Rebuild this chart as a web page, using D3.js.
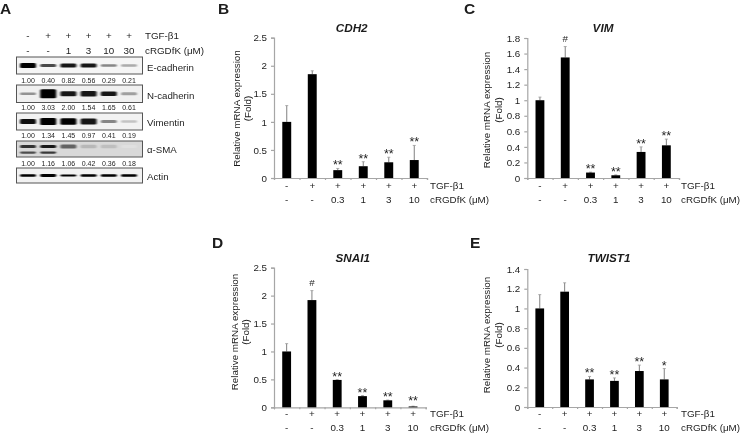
<!DOCTYPE html>
<html><head><meta charset="utf-8"><script src="https://cdn.jsdelivr.net/npm/d3@7"></script>
<style>html,body{margin:0;background:#fff}svg{display:block}text{font-family:"Liberation Sans",Arial,sans-serif;fill:#1a1a1a;opacity:.99}</style></head>
<body><svg id="c" width="740" height="434"></svg>
<script>
const tgfRow = ["-","+","+","+","+","+"];
const doseRow = ["-","-","0.3","1","3","10"];
const blotTgf = ["-","+","+","+","+","+"];
const blotDose = ["-","-","1","3","10","30"];
const blotNames = ["E-cadherin","N-cadherin","Vimentin","α-SMA","Actin"];
const eCad = [1.00,0.40,0.82,0.56,0.29,0.21];
const nCad = [1.00,3.03,2.00,1.54,1.65,0.61];
const vim = [1.00,1.34,1.45,0.97,0.41,0.19];
const sma = [1.00,1.16,1.06,0.42,0.36,0.18];
const eCadShade = [1,.7,.9,.9,.45,.3];
const nCadShade = [.4,1,.9,.9,.9,.35];
const vimShade = [.95,1,1,.9,.45,.2];
const smaShade = [.8,.9,.6,.25,.22,.08];
const actinShade = [1,1,1,1,1,1];
const cdh2 = [1,1.85,0.14,0.21,0.28,0.32], cdh2Err = [0.29,0.06,0.03,0.08,0.09,0.26], cdh2Sig = ["","","**","**","**","**"];
const vimRna = [1,1.55,0.07,0.035,0.335,0.42], vimErr = [0.04,0.14,0.005,0.005,0.065,0.08], vimSig = ["","#","**","**","**","**"];
const snai1 = [1,1.92,0.49,0.2,0.125,0.015], snai1Err = [0.14,0.17,0.005,0.01,0.005,0.005], snai1Sig = ["","#","**","**","**","**"];
const twist1 = [1,1.17,0.28,0.265,0.365,0.28], twist1Err = [0.14,0.09,0.03,0.03,0.06,0.11], twist1Sig = ["","","**","**","**","*"];
const ticks25 = [0,0.5,1,1.5,2,2.5], ticks18 = [0,0.2,0.4,0.6,0.8,1,1.2,1.4,1.6,1.8], ticks14 = [0,0.2,0.4,0.6,0.8,1,1.2,1.4];

const svg = d3.select("#c");
const defs = svg.append("defs");
defs.append("filter").attr("id","blur").attr("x","-30%").attr("y","-150%").attr("width","160%").attr("height","400%")
  .append("feGaussianBlur").attr("stdDeviation","0.9 0.5");

function label(x,y,t,size,opt={}){
  return svg.append("text").attr("x",x).attr("y",y).attr("font-size",size)
    .attr("text-anchor",opt.anchor||"start").attr("font-weight",opt.weight||null)
    .attr("font-style",opt.style||null).text(t);
}
[["A",0,14],["B",218,14],["C",464,14],["D",212,248],["E",470,248]].forEach(d=>label(d[1],d[2],d[0],15.5,{weight:"bold"}));

function panel(o){
  const y = d3.scaleLinear().domain(o.domain).range([o.bottom,o.top]);
  const x = d3.scaleBand().domain(d3.range(6)).range([o.left,o.right]).paddingInner(0.65).paddingOuter(0.325);
  const g = svg.append("g");
  const yAxis = d3.axisLeft(y).tickValues(o.ticks).tickSize(3).tickFormat(d=>String(d));
  const ya = g.append("g").attr("transform",`translate(${o.left},0)`).call(yAxis);
  ya.selectAll("text").attr("font-size",9.8).attr("dx","-1");
  const xAxis = d3.axisBottom(d3.scaleLinear().domain([0,6]).range([o.left,o.right])).tickValues(d3.range(7)).tickSize(2).tickFormat("");
  const xa = g.append("g").attr("transform",`translate(0,${o.bottom})`).call(xAxis);
  [ya,xa].forEach(a=>{a.selectAll(".domain,line").attr("stroke","#a6a6a6").attr("stroke-width",1.2);});
  const idx = d3.range(6), c = i=>x(i)+x.bandwidth()/2;
  g.selectAll(".err").data(idx).join("line").attr("class","err")
    .attr("x1",c).attr("x2",c)
    .attr("y1",i=>y(o.values[i])).attr("y2",i=>y(o.values[i]+o.errors[i]))
    .attr("stroke","#808080").attr("stroke-width",1);
  g.selectAll(".cap").data(idx).join("line").attr("class","cap")
    .attr("x1",i=>c(i)-1.5).attr("x2",i=>c(i)+1.5)
    .attr("y1",i=>y(o.values[i]+o.errors[i])).attr("y2",i=>y(o.values[i]+o.errors[i]))
    .attr("stroke","#999").attr("stroke-width",0.8);
  g.selectAll(".bar").data(idx).join("rect").attr("class","bar")
    .attr("x",i=>x(i)).attr("width",x.bandwidth())
    .attr("y",i=>y(o.values[i])).attr("height",i=>o.bottom-y(o.values[i])).attr("fill","#000");
  g.selectAll(".sig").data(idx).join("text").attr("class","sig")
    .attr("x",c)
    .attr("y",i=>{const t=y(o.values[i]+o.errors[i]);return o.sig[i]==="#"?t-4.5:Math.min(t+1,o.bottom-2.5);})
    .attr("text-anchor","middle").attr("font-size",i=>o.sig[i]==="#"?9.8:12.5).text(i=>o.sig[i]);
  g.selectAll(".r1").data(idx).join("text").attr("class","r1")
    .attr("x",c).attr("y",o.bottom+o.row1).attr("text-anchor","middle").attr("font-size",9.8).text(i=>tgfRow[i]);
  g.selectAll(".r2").data(idx).join("text").attr("class","r2")
    .attr("x",c).attr("y",o.bottom+o.row2).attr("text-anchor","middle").attr("font-size",9.8).text(i=>doseRow[i]);
  label(o.labX,o.bottom+o.row1,"TGF-β1",9.8);
  label(o.labX,o.bottom+o.row2,"cRGDfK (μM)",9.8);
  label(o.titleX,o.titleY,o.title,11.7,{weight:"bold",style:"italic",anchor:"middle"});
  const yl = g.append("text").attr("transform",`translate(${o.ylabX},${o.ylabY}) rotate(-90)`).attr("text-anchor","middle").attr("font-size",9.8);
  yl.append("tspan").attr("x",0).attr("dy",0).text("Relative mRNA expression");
  yl.append("tspan").attr("x",0).attr("dy",11.5).text("(Fold)");
}
panel({title:"CDH2",titleX:351.7,titleY:32,values:cdh2,errors:cdh2Err,sig:cdh2Sig,domain:[0,2.5],ticks:ticks25,left:274,right:427,top:37.7,bottom:178,ylabX:239.5,ylabY:108.5,labX:430,row1:10.5,row2:24.7});
panel({title:"VIM",titleX:603,titleY:32,values:vimRna,errors:vimErr,sig:vimSig,domain:[0,1.8],ticks:ticks18,left:527.3,right:679,top:38,bottom:178,ylabX:490,ylabY:110,labX:681,row1:10.5,row2:24.7});
panel({title:"SNAI1",titleX:352.7,titleY:261.7,values:snai1,errors:snai1Err,sig:snai1Sig,domain:[0,2.5],ticks:ticks25,left:274,right:425.7,top:267.7,bottom:407.3,ylabX:237.5,ylabY:332,labX:430,row1:9.5,row2:23.4});
panel({title:"TWIST1",titleX:609,titleY:261.7,values:twist1,errors:twist1Err,sig:twist1Sig,domain:[0,1.4],ticks:ticks14,left:527.3,right:676.7,top:269,bottom:407,ylabX:490,ylabY:335,labX:681,row1:9.7,row2:23.7});

// Blot
const lane = d3.scalePoint().domain(d3.range(6)).range([28,129]);
const gray = d3.scaleLinear().domain([0,1]).range(["#f4f4f4","#000000"]);
blotTgf.forEach((t,i)=>label(lane(i),39.3,t,9.8,{anchor:"middle"}));
blotDose.forEach((t,i)=>label(lane(i),54.3,t,9.8,{anchor:"middle"}));
label(145,39.3,"TGF-β1",9.8);
label(145,54.3,"cRGDfK (μM)",9.8);
const rows=[
 {top:57,h:17,shade:eCadShade,nums:eCad,lh:[5,3,4,4,2.4,2.4],numY:82.5,nameY:70.7,bg:"#f5f5f5"},
 {top:85,h:17.5,shade:nCadShade,nums:nCad,lh:[2.6,9,5,5.5,4.4,3],numY:110,nameY:98.7,bg:"#f0f0f0"},
 {top:113,h:17,shade:vimShade,nums:vim,lh:[5,7,6.5,6,3.2,2.4],numY:138.3,nameY:126,bg:"#f2f2f2"},
 {top:141,h:16,shade:smaShade,nums:sma,lh:[3,3,4,3.5,3.5,3],numY:165.7,nameY:152.7,bg:"#d9d9d9",second:true},
 {top:168,h:15,shade:actinShade,nums:null,lh:[2.4,2.8,2.2,2.6,2.4,2.6],numY:0,nameY:180,bg:"#f2f2f2"}
];
rows.forEach((r,k)=>{
  const g=svg.append("g");
  g.append("rect").attr("x",16.5).attr("y",r.top).attr("width",126).attr("height",r.h).attr("fill",r.bg);
  const bands=g.append("g").attr("filter","url(#blur)");
  const off = r.second ? -2.5 : 0;
  bands.selectAll(".b1").data(d3.range(6)).join("rect").attr("class","b1")
    .attr("x",i=>lane(i)-8).attr("width",16).attr("rx",1.5)
    .attr("y",i=>r.top+r.h/2-r.lh[i]/2+off).attr("height",i=>r.lh[i]).attr("fill",i=>gray(r.shade[i]));
  if(r.second) bands.selectAll(".b2").data(d3.range(2)).join("rect").attr("class","b2")
    .attr("x",i=>lane(i)-8).attr("width",16).attr("rx",1.5)
    .attr("y",r.top+r.h/2+2.5).attr("height",2.2).attr("fill",i=>gray(r.shade[i]*.85));
  g.append("rect").attr("x",16.5).attr("y",r.top).attr("width",126).attr("height",r.h).attr("fill","none").attr("stroke","#555").attr("stroke-width",1);
  label(147,r.nameY,blotNames[k],9.7);
  if(r.nums) r.nums.forEach((v,i)=>label(lane(i),r.numY,v.toFixed(2),7,{anchor:"middle"}));
});
</script></body></html>
